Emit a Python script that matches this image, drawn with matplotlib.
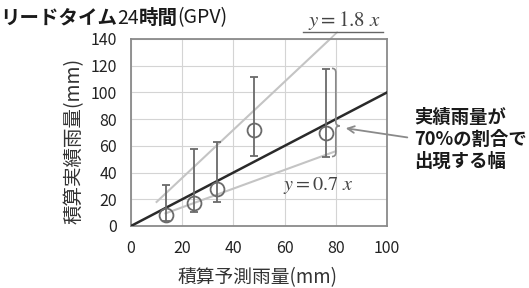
import numpy as np
import matplotlib.pyplot as plt
from matplotlib.path import Path
from matplotlib.patches import PathPatch

plt.rcParams['font.family'] = ['Noto Sans CJK JP', 'DejaVu Sans']
plt.rcParams['mathtext.fontset'] = 'stix'

# 予測雨量と実績雨量(読み取り値)
pred = [13.5, 24.7, 33.6, 48.2, 76.0]
obs = [8.2, 17.0, 28.0, 71.9, 69.9]
obs_lo = [4.0, 10.7, 17.7, 52.6, 51.9]
obs_hi = [30.5, 57.4, 63.0, 111.3, 117.3]

# 参照線
x_eq = [0, 100]
x_upper = [10, 78]
x_lower = [13.5, 80]
k_upper = 1.8
k_lower = 0.7

# 70%幅の括弧
band_x = 80
band_top = 118
band_bottom = 52
band_tip = 75

xticks = [0, 20, 40, 60, 80, 100]
yticks = [0, 20, 40, 60, 80, 100, 120, 140]

# タイトル(太字と細字が混在)
title_parts = [('リードタイム', 'bold'), ('24', 'normal'), ('時間', 'bold'), ('(GPV)', 'normal')]

fig = plt.figure(figsize=(5.29, 2.88), dpi=100)
ax = fig.add_axes([0.2476, 0.2153, 0.484, 0.6493])

ax.set_xlim(0, 100)
ax.set_ylim(0, 140)
ax.set_xticks(xticks)
ax.set_yticks(yticks)
ax.tick_params(length=0, labelsize=11.5, colors='#222222')
ax.tick_params(axis='x', pad=10)
ax.tick_params(axis='y', pad=10)
ax.grid(color='#d4d4d4', linewidth=0.8)
ax.set_axisbelow(True)
for s in ax.spines.values():
    s.set_color('#8a8a8a')
    s.set_linewidth(1.3)

# 参照線
xu = np.array(x_upper)
ax.plot(xu, k_upper * xu, color='#c4c4c4', lw=1.5, zorder=2)
# 1.8x ラベルへの引き出し線
ax.plot([x_upper[1], x_upper[1] + 2.5], [k_upper * x_upper[1], 145],
        color='#c4c4c4', lw=1.2, clip_on=False, zorder=2)
xl = np.array(x_lower)
ax.plot(xl, k_lower * xl, color='#c4c4c4', lw=1.5, zorder=2)
ax.plot(x_eq, x_eq, color='#2a2a2a', lw=1.8, zorder=3)

# 観測値と誤差範囲
yerr = [np.array(obs) - np.array(obs_lo), np.array(obs_hi) - np.array(obs)]
ax.errorbar(pred, obs, yerr=yerr, fmt='o', ms=10, mfc='none', mec='#6a6a6a',
            mew=1.3, ecolor='#6a6a6a', elinewidth=1.3, capsize=3, capthick=1.2,
            zorder=4)

# 括弧 }
bx = band_x
verts = [(bx - 1.5, band_top), (bx, band_top), (bx, band_top - 3),
         (bx, band_tip + 3),
         (bx, band_tip), (bx + 1.5, band_tip),
         (bx, band_tip), (bx, band_tip - 3),
         (bx, band_bottom + 3),
         (bx, band_bottom), (bx - 1.5, band_bottom)]
codes = [Path.MOVETO, Path.CURVE3, Path.CURVE3, Path.LINETO,
         Path.CURVE3, Path.CURVE3, Path.CURVE3, Path.CURVE3,
         Path.LINETO, Path.CURVE3, Path.CURVE3]
ax.add_patch(PathPatch(Path(verts, codes), fill=False, edgecolor='#8a8a8a',
                       lw=1.2, clip_on=False, zorder=4))

ax.annotate('', xy=(band_x + 2.8, band_tip - 1.5), xytext=(109, 66),
            arrowprops=dict(arrowstyle='->', color='#8a8a8a', lw=1.3,
                            mutation_scale=12),
            annotation_clip=False)

# 式ラベル
ax.text(73, 30.5, r'$y = 0.7\ x$', fontsize=14.5, color='#444444',
        ha='center', va='center')
fig.text(344 / 529, 1 - 21 / 288, r'$y = 1.8\ x$', fontsize=15, color='#444444',
         ha='center', va='center')
fig.lines.append(plt.Line2D([303 / 529, 383 / 529], [1 - 32 / 288, 1 - 32 / 288],
                            color='#666666', lw=1.0, transform=fig.transFigure))

# タイトル
renderer = fig.canvas.get_renderer()
x0 = 0.0
for s, w in title_parts:
    t = fig.text(x0, 1 - 18 / 288, s, fontsize=14, fontweight=w,
                 ha='left', va='center', color='#1a1a1a')
    bb = t.get_window_extent(renderer)
    x0 += bb.width / fig.bbox.width

fig.text(74 / 529, 1 - 141 / 288, '積算実績雨量(mm)', rotation=90, fontsize=14,
         ha='center', va='center', color='#333333')
fig.text(257 / 529, 1 - 278 / 288, '積算予測雨量(mm)', fontsize=13.5,
         ha='center', va='center', color='#333333')
fig.text(414 / 529, 1 - 139 / 288, '実績雨量が\n70%の割合で\n出現する幅',
         fontsize=13.2, fontweight='bold', ha='left', va='center',
         color='#1a1a1a', linespacing=1.2)

fig.savefig('out.png', dpi=100)
